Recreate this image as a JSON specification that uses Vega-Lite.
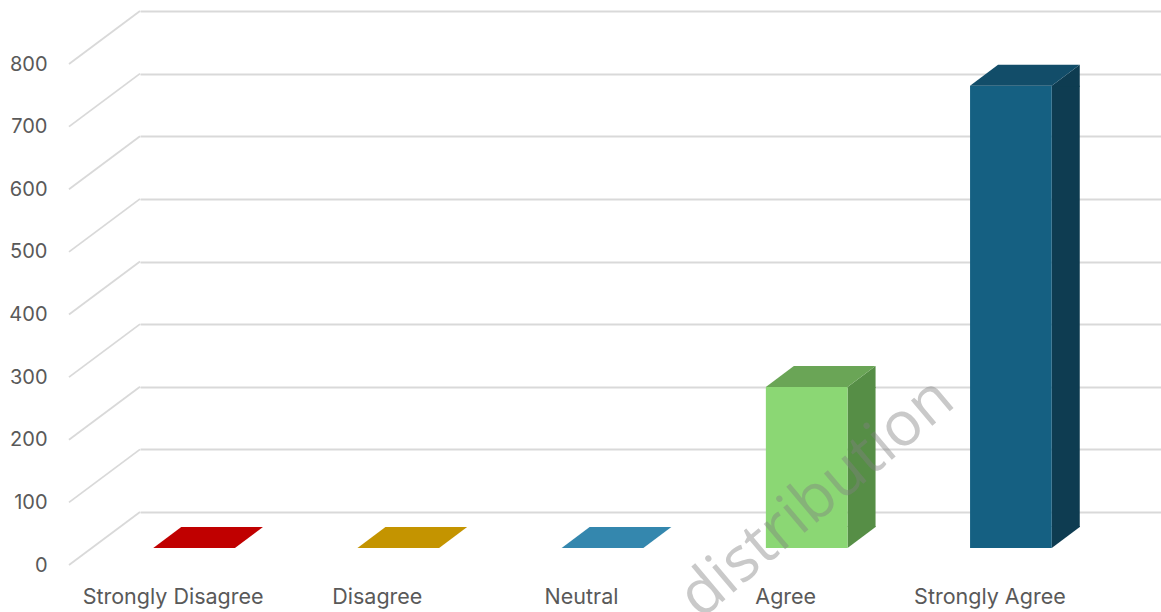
{
  "$schema": "https://vega.github.io/schema/vega-lite/v6.json",
  "width": 1021,
  "height": 501,
  "autosize": {"type": "none"},
  "padding": {"left": 140, "top": 11, "right": 0, "bottom": 100},
  "background": "white",
  "config": {"view": {"stroke": null}},
  "datasets": {
    "responses": [
      {"response": "Strongly Disagree", "count": 0},
      {"response": "Disagree", "count": 0},
      {"response": "Neutral", "count": 0},
      {"response": "Agree", "count": 257},
      {"response": "Strongly Agree", "count": 738}
    ],
    "gridTicks": [
      {"v": 0}, {"v": 100}, {"v": 200}, {"v": 300}, {"v": 400},
      {"v": 500}, {"v": 600}, {"v": 700}, {"v": 800}
    ]
  },
  "resolve": {"scale": {"color": "independent"}},
  "layer": [
    {
      "data": {"name": "gridTicks"},
      "mark": {"type": "point", "shape": "M -102.1 0 L -173.1 53", "size": 4, "filled": false, "stroke": "#d9d9d9", "strokeWidth": 1.8, "opacity": 1},
      "encoding": {
        "x": {"datum": "Strongly Disagree", "type": "nominal",
          "scale": {"type": "band", "domain": ["Strongly Disagree", "Disagree", "Neutral", "Agree", "Strongly Agree"], "paddingInner": 0, "paddingOuter": 0},
          "axis": {"orient": "bottom", "domain": false, "ticks": false, "tickSize": 0, "grid": false, "labelPadding": 91, "labelBaseline": "alphabetic", "labelOffset": -69, "labelAngle": 0, "labelLimit": 400, "labelOverlap": false, "title": null, "labelFont": "Inter", "labelFontSize": 21.5, "labelColor": "#595959"}},
        "y": {"field": "v", "type": "quantitative",
          "scale": {"domain": [0, 800], "nice": false, "zero": true},
          "axis": {"orient": "left", "values": [0, 100, 200, 300, 400, 500, 600, 700, 800], "grid": true, "gridColor": "#d9d9d9", "gridWidth": 1.8, "domain": false, "ticks": false, "tickSize": 0, "labelPadding": 93, "labelOffset": 53, "labelBaseline": "middle", "title": null, "labelFont": "Inter", "labelFontSize": 20, "labelColor": "#595959"}}
      }
    },
    {
      "data": {"name": "responses"},
      "transform": [{"filter": "datum.count > 0"}],
      "mark": {"type": "bar", "width": 28, "xOffset": 6.85, "yOffset": 36, "y2Offset": 15},
      "encoding": {
        "x": {"field": "response", "type": "nominal", "sort": null, "scale": {"type": "band"}},
        "y": {"field": "count", "type": "quantitative"},
        "y2": {"datum": 0},
        "color": {"field": "response", "type": "nominal", "legend": null,
          "scale": {"domain": ["Agree", "Strongly Agree"], "range": ["#568e46", "#0e3c51"]}}
      }
    },
    {
      "data": {"name": "responses"},
      "transform": [{"filter": "datum.count > 0"}],
      "mark": {"type": "point", "shape": "M -7.15 36 L 20.85 15 L 20.85 37 L -7.15 37 Z", "size": 4, "filled": true, "opacity": 1, "strokeWidth": 0},
      "encoding": {
        "x": {"field": "response", "type": "nominal", "sort": null, "scale": {"type": "band"}},
        "y": {"field": "count", "type": "quantitative"},
        "color": {"field": "response", "type": "nominal", "legend": null,
          "scale": {"domain": ["Agree", "Strongly Agree"], "range": ["#568e46", "#0e3c51"]}}
      }
    },
    {
      "data": {"name": "responses"},
      "transform": [{"filter": "datum.count > 0"}],
      "mark": {"type": "point", "shape": "M -7.15 14 L 20.85 14 L 20.85 15 L -7.15 36 Z", "size": 4, "filled": true, "opacity": 1, "strokeWidth": 0},
      "encoding": {
        "x": {"field": "response", "type": "nominal", "sort": null, "scale": {"type": "band"}},
        "y": {"datum": 0, "type": "quantitative"},
        "color": {"field": "response", "type": "nominal", "legend": null,
          "scale": {"domain": ["Agree", "Strongly Agree"], "range": ["#568e46", "#0e3c51"]}}
      }
    },
    {
      "data": {"name": "responses"},
      "mark": {"type": "bar", "width": {"band": 0.4}, "xOffset": -48, "yOffset": 36, "y2Offset": 36},
      "encoding": {
        "x": {"field": "response", "type": "nominal", "sort": null, "scale": {"type": "band"}},
        "y": {"field": "count", "type": "quantitative"},
        "y2": {"datum": 0},
        "color": {"field": "response", "type": "nominal", "legend": null,
          "scale": {"domain": ["Strongly Disagree", "Disagree", "Neutral", "Agree", "Strongly Agree"], "range": ["#c00000", "#c49400", "#3487ae", "#8bd774", "#156082"]}}
      }
    },
    {
      "data": {"name": "responses"},
      "mark": {"type": "point", "shape": "M -88.85 36 L -7.15 36 L 20.85 15 L -60.85 15 Z", "size": 4, "filled": true, "opacity": 1, "strokeWidth": 0},
      "encoding": {
        "x": {"field": "response", "type": "nominal", "sort": null, "scale": {"type": "band"}},
        "y": {"field": "count", "type": "quantitative"},
        "color": {"field": "response", "type": "nominal", "legend": null,
          "scale": {"domain": ["Strongly Disagree", "Disagree", "Neutral", "Agree", "Strongly Agree"], "range": ["#c00000", "#c49400", "#3487ae", "#6aa556", "#124d69"]}}
      }
    },
    {
      "data": {"values": [{"mark": "watermark"}]},
      "mark": {"type": "text", "text": "distribution", "angle": -40, "font": "Open Sans", "fontWeight": 400, "fontSize": 62, "fill": "#808080", "opacity": 0.42, "align": "center", "baseline": "middle", "xOffset": -38, "yOffset": -14},
      "encoding": {
        "x": {"datum": "Agree", "type": "nominal", "scale": {"type": "band"}},
        "y": {"datum": 0, "type": "quantitative"}
      }
    }
  ]
}
